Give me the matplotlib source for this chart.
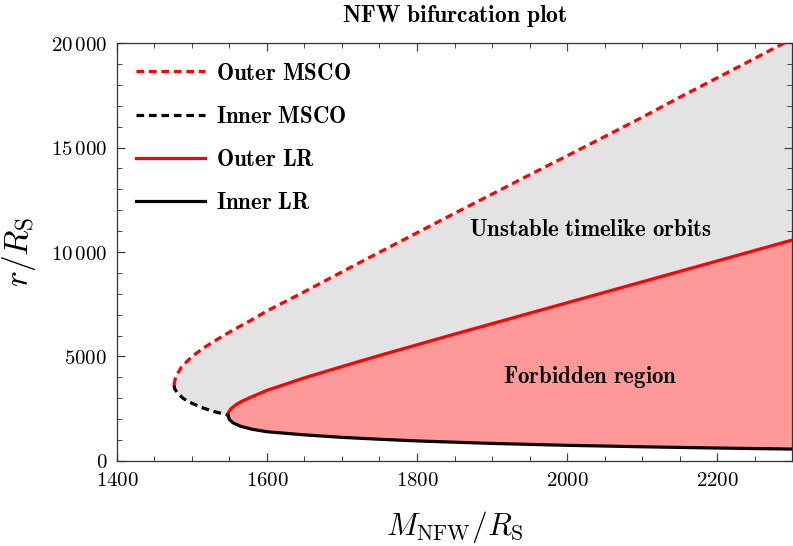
import matplotlib.pyplot as plt
from matplotlib.ticker import MultipleLocator, FuncFormatter

plt.rcParams['mathtext.fontset'] = 'cm'
plt.rcParams['font.family'] = ['DejaVu Serif']

# outer MSCO (M/R_S, r/R_S), from the turning point upward
outer_msco_m = [1476, 1478, 1486, 1500, 1515, 1535, 1555, 1578, 1600, 1650, 1700, 1750, 1800,
                1850, 1900, 1950, 2000, 2050, 2100, 2150, 2200, 2250, 2300]
outer_msco_r = [3636, 4000, 4500, 5000, 5400, 5850, 6270, 6720, 7180, 8100, 9050, 9990, 10920,
                11850, 12770, 13690, 14600, 15520, 16440, 17400, 18330, 19260, 20200]

# inner MSCO, from the turning point down to the light-ring cusp
inner_msco_m = [1476, 1477, 1481, 1488, 1500, 1515, 1530, 1548]
inner_msco_r = [3636, 3450, 3250, 3000, 2760, 2530, 2360, 2200]

# outer light ring
outer_lr_m = [1548, 1549, 1552, 1558, 1566, 1577, 1600, 1650, 1700, 1750, 1800, 1850, 1900,
              1950, 2000, 2050, 2100, 2150, 2200, 2250, 2300]
outer_lr_r = [2200, 2350, 2500, 2680, 2850, 3030, 3380, 3980, 4520, 5050, 5560, 6070, 6570,
              7070, 7570, 8070, 8570, 9070, 9570, 10070, 10570]

# inner light ring
inner_lr_m = [1548, 1550, 1555, 1565, 1580, 1600, 1650, 1700, 1750, 1800, 1900, 2000, 2100, 2200, 2300]
inner_lr_r = [2200, 1980, 1820, 1660, 1520, 1400, 1250, 1130, 1040, 960, 840, 750, 680, 620, 570]

legend_labels = ['Outer MSCO', 'Inner MSCO', 'Outer LR', 'Inner LR']

fig = plt.figure(figsize=(7.93, 5.46), dpi=100)
ax = fig.add_axes([0.1475, 0.1557, 0.8513, 0.7655])

# shaded regions
gray_m = outer_msco_m[::-1] + inner_msco_m[1:] + inner_lr_m[1:]
gray_r = outer_msco_r[::-1] + inner_msco_r[1:] + inner_lr_r[1:]
ax.fill(gray_m, gray_r, color='#e3e3e3', lw=0, zorder=1)
red_m = outer_lr_m[::-1] + inner_lr_m[1:]
red_r = outer_lr_r[::-1] + inner_lr_r[1:]
ax.fill(red_m, red_r, color='#ff9999', lw=0, zorder=2)

dash = (0, (2.4, 1.5))
lw = 2.3
ax.plot(outer_msco_m, outer_msco_r, color='red', ls=dash, lw=lw, label=legend_labels[0], zorder=3)
ax.plot(inner_msco_m, inner_msco_r, color='black', ls=dash, lw=lw, label=legend_labels[1], zorder=3)
ax.plot(outer_lr_m, outer_lr_r, color='red', lw=lw, label=legend_labels[2], zorder=3)
ax.plot(inner_lr_m, inner_lr_r, color='black', lw=lw, label=legend_labels[3], zorder=3)

ax.text(2031, 11053, r'$\mathbf{Unstable\ timelike\ orbits}$', ha='center', va='center', fontsize=16.5)
ax.text(2031, 4019, r'$\mathbf{Forbidden\ region}$', ha='center', va='center', fontsize=16.5)

ax.set_xlim(1400, 2300)
ax.set_ylim(0, 20000)
ax.xaxis.set_major_locator(MultipleLocator(200))
ax.xaxis.set_minor_locator(MultipleLocator(50))
ax.yaxis.set_major_locator(MultipleLocator(5000))
ax.yaxis.set_minor_locator(MultipleLocator(1000))


def yfmt(v, pos):
    v = int(round(v))
    if v >= 10000:
        return r'$%d\,%03d$' % (v // 1000, v % 1000)
    return r'$%d$' % v


ax.xaxis.set_major_formatter(FuncFormatter(lambda v, p: r'$%d$' % int(round(v))))
ax.yaxis.set_major_formatter(FuncFormatter(yfmt))
ax.tick_params(which='both', direction='in', top=True, right=True, color='#444444', labelsize=15)
ax.tick_params(which='major', length=6, width=0.9, pad=7)
ax.tick_params(which='minor', length=3.5, width=0.7)
for s in ax.spines.values():
    s.set_color('#333333')
    s.set_linewidth(0.9)

ax.set_xlabel(r'$M_{\mathrm{NFW}}/R_{\mathrm{S}}$', fontsize=22.5)
ax.xaxis.set_label_coords(0.5, -0.158, transform=ax.transAxes)
ax.xaxis.label.set_va('center')
ax.set_ylabel(r'$r/R_{\mathrm{S}}$', fontsize=24)
ax.yaxis.set_label_coords(-0.145, 0.5, transform=ax.transAxes)
ax.yaxis.label.set_va('center')
ax.set_title(r'$\mathbf{NFW\ bifurcation\ plot}$', fontsize=17, pad=15)

leg = ax.legend(loc='upper left', frameon=False, handlelength=3.0,
                handletextpad=0.47, labelspacing=0.93, borderaxespad=0.45,
                prop={'size': 16.5})
for t in leg.get_texts():
    t.set_text(r'$\mathbf{%s}$' % t.get_text().replace(' ', r'\ '))

fig.savefig('out.png', dpi=100)
